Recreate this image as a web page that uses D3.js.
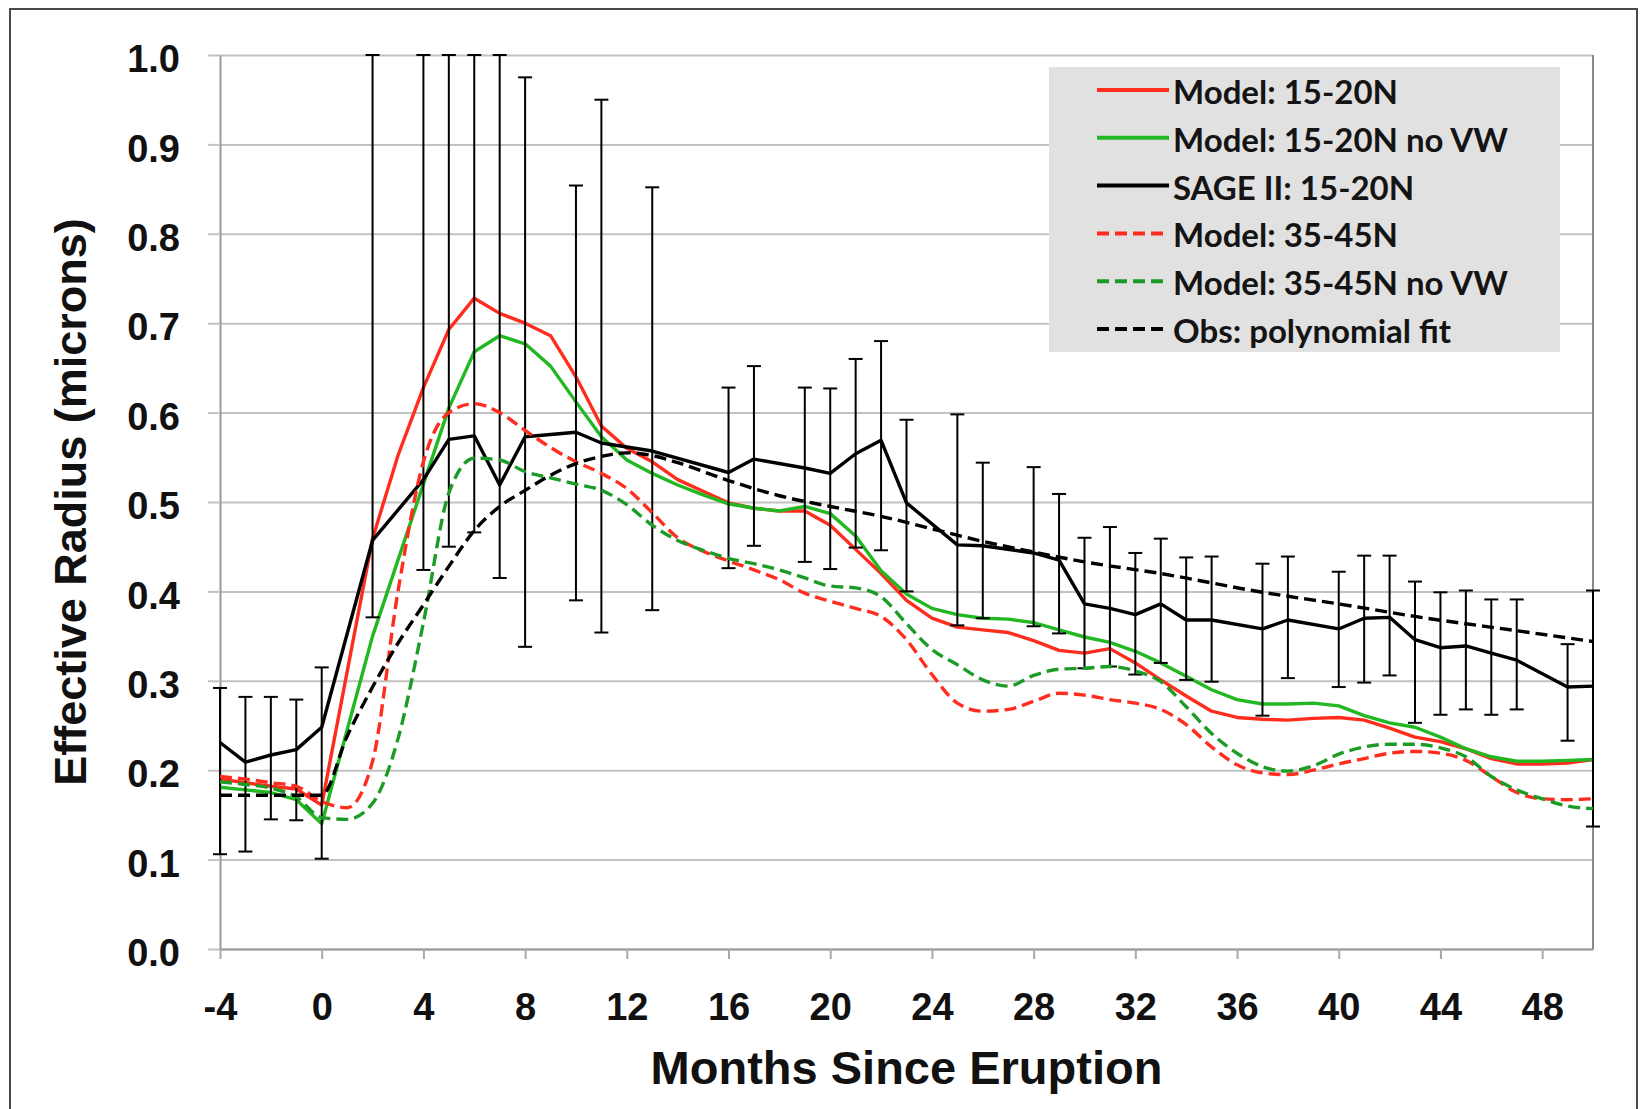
<!DOCTYPE html>
<html>
<head>
<meta charset="utf-8">
<script src="https://cdn.jsdelivr.net/npm/d3@7"></script>
<style>
  html, body { margin: 0; padding: 0; background: #ffffff; }
  svg { display: block; }
</style>
</head>
<body>
<svg id="chart" width="1640" height="1109"></svg>
<script>
// ---- Data -------------------------------------------------------------
// Monthly model output, months relative to the eruption
const modelMonths = [-4,-3,-2,-1,0,1,2,3,4,5,6,7,8,9,10,11,12,13,14,15,16,17,18,19,20,
  21,22,23,24,25,26,27,28,29,30,31,32,33,34,35,36,37,38,39,40,41,42,43,44,45,46,47,48,49,50];

// Model: 15-20N
const model1520 = [0.190,0.186,0.182,0.179,0.161,0.310,0.459,0.552,0.628,0.693,
  0.728,0.711,0.700,0.686,0.640,0.585,0.560,0.545,0.525,0.512,
  0.499,0.493,0.490,0.490,0.474,0.447,0.420,0.390,0.370,0.360,
  0.357,0.354,0.345,0.334,0.331,0.336,0.320,0.301,0.283,0.266,
  0.259,0.257,0.256,0.258,0.259,0.256,0.247,0.237,0.232,0.224,
  0.213,0.207,0.207,0.208,0.212];

// Model: 15-20N no VW
const model1520NoVW = [0.181,0.178,0.175,0.167,0.140,0.245,0.350,0.435,0.520,0.605,
  0.668,0.686,0.677,0.652,0.612,0.573,0.547,0.532,0.519,0.508,
  0.498,0.493,0.490,0.495,0.487,0.462,0.423,0.397,0.381,0.374,
  0.370,0.369,0.365,0.357,0.349,0.343,0.333,0.320,0.305,0.290,
  0.279,0.274,0.274,0.275,0.272,0.261,0.253,0.248,0.237,0.224,
  0.215,0.210,0.210,0.211,0.212];

// Model: 35-45N
const model3545 = [0.193,0.190,0.186,0.182,0.165,0.158,0.210,0.400,0.545,0.600,
  0.610,0.600,0.580,0.561,0.545,0.532,0.515,0.488,0.460,0.445,
  0.434,0.424,0.413,0.398,0.389,0.381,0.372,0.346,0.307,0.275,
  0.266,0.268,0.277,0.286,0.284,0.279,0.275,0.268,0.251,0.226,
  0.206,0.197,0.195,0.200,0.207,0.213,0.219,0.221,0.219,0.211,
  0.193,0.175,0.168,0.167,0.168];

// Model: 35-45N no VW
const model3545NoVW = [0.187,0.184,0.180,0.170,0.147,0.145,0.163,0.235,0.365,0.510,
  0.549,0.547,0.534,0.527,0.520,0.513,0.497,0.474,0.457,0.446,
  0.437,0.431,0.424,0.415,0.406,0.404,0.394,0.364,0.335,0.318,
  0.301,0.294,0.306,0.313,0.314,0.316,0.311,0.299,0.271,0.241,
  0.219,0.204,0.199,0.205,0.218,0.226,0.229,0.229,0.225,0.215,
  0.193,0.178,0.168,0.160,0.157];

// SAGE II: 15-20N observations with error bars
const sageMonths = [-4,-3,-2,-1,0,2,4,5,6,7,8,10,11,13,16,17,19,20,21,22,23,25,26,
  28,29,30,31,32,33,34,35,37,38,40,41,42,43,44,45,46,47,49,50];
const sageValues = [0.231,0.209,0.217,0.223,0.248,0.457,0.525,0.570,0.574,0.519,0.573,
  0.578,0.566,0.557,0.533,0.548,0.538,0.532,0.554,0.569,0.499,0.452,0.451,
  0.443,0.435,0.386,0.381,0.374,0.386,0.368,0.368,0.358,0.368,
  0.358,0.370,0.371,0.346,0.337,0.339,0.331,0.323,0.293,0.294];
const sageHigh = [0.292,0.282,0.282,0.279,0.315,1.0,1.0,1.0,1.0,1.0,0.975,
  0.854,0.950,0.852,0.628,0.652,0.628,0.627,0.660,0.680,0.592,0.598,0.544,
  0.539,0.509,0.460,0.472,0.443,0.459,0.438,0.439,0.431,0.439,
  0.422,0.440,0.440,0.411,0.399,0.401,0.391,0.391,0.341,0.401];
const sageLow = [0.106,0.109,0.145,0.144,0.101,0.371,0.424,0.450,0.466,0.415,0.338,
  0.390,0.354,0.379,0.426,0.451,0.433,0.425,0.449,0.446,0.400,0.362,0.370,
  0.361,0.353,0.314,0.316,0.307,0.320,0.301,0.299,0.261,0.303,
  0.293,0.298,0.306,0.253,0.262,0.268,0.262,0.268,0.233,0.137];

// Obs: polynomial fit
const fitMonths = [-4,-2,0,1,2,3,4,5,6,7,8,9,10,11,12,13,14,16,18,20,22,24,26,28,30,33,37,40,43,47,50];
const fitValues = [0.172,0.172,0.172,0.238,0.293,0.342,0.385,0.428,0.468,0.495,0.513,0.530,
  0.543,0.551,0.555,0.552,0.544,0.524,0.507,0.495,0.484,0.470,0.456,0.444,0.433,
  0.420,0.399,0.386,0.372,0.356,0.344];

// Axis ticks
const xTickValues = [-4,0,4,8,12,16,20,24,28,32,36,40,44,48];
const yTickValues = [0.0,0.1,0.2,0.3,0.4,0.5,0.6,0.7,0.8,0.9,1.0];

const legendLabels = ["Model: 15-20N","Model: 15-20N no VW","SAGE II: 15-20N",
  "Model: 35-45N","Model: 35-45N no VW","Obs: polynomial fit"];

// ---- Layout -------------------------------------------------------------
const RED = "#ff2d1e", GREEN = "#22b822", GREEN_DARK = "#1c9c26", BLACK = "#000000";
const plot = { left: 220, right: 1593, top: 55, bottom: 949 };

const svg = d3.select("#chart");
const x = d3.scaleLinear().domain([-4, 50]).range([plot.left, plot.right]);
const y = d3.scaleLinear().domain([0, 1]).range([plot.bottom, plot.top]);

// Outer frame
svg.append("rect")
  .attr("x", 10).attr("y", 9).attr("width", 1627).attr("height", 1130)
  .attr("fill", "none").attr("stroke", "#4a4a4a").attr("stroke-width", 2);

// Horizontal gridlines
const grid = svg.append("g")
  .attr("transform", `translate(${plot.left},0)`)
  .call(d3.axisLeft(y).tickValues(yTickValues).tickSize(-(plot.right - plot.left)).tickFormat(""));
grid.select(".domain").remove();
grid.selectAll(".tick line").attr("stroke", "#c2c2c2").attr("stroke-width", 2);

// Y axis with labels
const yAxis = svg.append("g")
  .attr("transform", `translate(${plot.left},0)`)
  .call(d3.axisLeft(y).tickValues(yTickValues).tickSize(12).tickSizeOuter(0).tickPadding(28)
    .tickFormat(d3.format(".1f")));
yAxis.select(".domain").attr("stroke", "#9a9a9a").attr("stroke-width", 2);
yAxis.selectAll(".tick line").attr("stroke", "#c2c2c2").attr("stroke-width", 2);
yAxis.selectAll(".tick text")
  .attr("dy", "0.44em")
  .attr("fill", "#111")
  .style("font-family", "'Liberation Sans', Arial, sans-serif")
  .style("font-weight", "bold")
  .style("font-size", "38px");

// X axis (plain hyphen for negative months)
const xAxis = svg.append("g")
  .attr("transform", `translate(0,${plot.bottom})`)
  .call(d3.axisBottom(x).tickValues(xTickValues).tickSize(10).tickSizeOuter(0).tickPadding(34)
    .tickFormat(d => String(d)));
xAxis.select(".domain").attr("stroke", "#9a9a9a").attr("stroke-width", 2);
xAxis.selectAll(".tick line").attr("stroke", "#a8a8a8").attr("stroke-width", 2);
xAxis.selectAll(".tick text")
  .attr("fill", "#111")
  .style("font-family", "'Liberation Sans', Arial, sans-serif")
  .style("font-weight", "bold")
  .style("font-size", "38px");

// Right border of plot area
svg.append("line")
  .attr("x1", x(50)).attr("x2", x(50)).attr("y1", y(1)).attr("y2", y(0))
  .attr("stroke", "#8a8a8a").attr("stroke-width", 2);

// Axis titles
svg.append("text")
  .attr("transform", `translate(86,${(plot.top + plot.bottom) / 2}) rotate(-90)`)
  .attr("text-anchor", "middle")
  .style("font-family", "'Liberation Sans', Arial, sans-serif")
  .style("font-weight", "bold").style("font-size", "45px").attr("fill", "#111")
  .text("Effective Radius (microns)");

svg.append("text")
  .attr("x", (plot.left + plot.right) / 2).attr("y", 1084)
  .attr("text-anchor", "middle")
  .style("font-family", "'Liberation Sans', Arial, sans-serif")
  .style("font-weight", "bold").style("font-size", "47px").attr("fill", "#111")
  .text("Months Since Eruption");

// ---- Series --------------------------------------------------------------
const marks = svg.append("g");

function drawSeries(months, values, color, dashed, curve) {
  const pts = months.map((m, i) => [m, values[i]]);
  marks.append("path")
    .datum(pts)
    .attr("fill", "none")
    .attr("stroke", color)
    .attr("stroke-width", 3.4)
    .attr("stroke-linejoin", "round")
    .attr("stroke-dasharray", dashed ? "12,6" : null)
    .attr("d", d3.line().x(d => x(d[0])).y(d => y(d[1])).curve(curve));
}

drawSeries(modelMonths, model1520, RED, false, d3.curveLinear);
drawSeries(modelMonths, model1520NoVW, GREEN, false, d3.curveLinear);

// SAGE II error bars
const sage = sageMonths.map((m, i) => ({ m, v: sageValues[i], hi: sageHigh[i], lo: sageLow[i] }));
const bars = marks.append("g").attr("stroke", BLACK).attr("stroke-width", 2);
bars.selectAll("line.stem").data(sage).join("line")
  .attr("class", "stem")
  .attr("x1", d => x(d.m)).attr("x2", d => x(d.m))
  .attr("y1", d => y(d.hi)).attr("y2", d => y(d.lo));
bars.selectAll("line.cap-hi").data(sage).join("line")
  .attr("class", "cap-hi")
  .attr("x1", d => x(d.m) - 7).attr("x2", d => x(d.m) + 7)
  .attr("y1", d => y(d.hi)).attr("y2", d => y(d.hi));
bars.selectAll("line.cap-lo").data(sage).join("line")
  .attr("class", "cap-lo")
  .attr("x1", d => x(d.m) - 7).attr("x2", d => x(d.m) + 7)
  .attr("y1", d => y(d.lo)).attr("y2", d => y(d.lo));

drawSeries(sageMonths, sageValues, BLACK, false, d3.curveLinear);
drawSeries(modelMonths, model3545, RED, true, d3.curveMonotoneX);
drawSeries(modelMonths, model3545NoVW, GREEN_DARK, true, d3.curveMonotoneX);
drawSeries(fitMonths, fitValues, BLACK, true, d3.curveMonotoneX);

// ---- Legend -------------------------------------------------------------
const legendStyles = [
  { color: RED, dashed: false },
  { color: GREEN, dashed: false },
  { color: BLACK, dashed: false },
  { color: RED, dashed: true },
  { color: GREEN_DARK, dashed: true },
  { color: BLACK, dashed: true }
];
const legend = svg.append("g");
legend.append("rect")
  .attr("x", 1049).attr("y", 67).attr("width", 511).attr("height", 285)
  .attr("fill", "#e1e1e1");
const rows = legend.selectAll("g.row").data(legendLabels).join("g")
  .attr("class", "row")
  .attr("transform", (d, i) => `translate(0,${90 + i * 47.8})`);
rows.append("line")
  .attr("x1", 1097).attr("x2", 1169).attr("y1", 0).attr("y2", 0)
  .attr("stroke", (d, i) => legendStyles[i].color)
  .attr("stroke-width", 4)
  .attr("stroke-dasharray", (d, i) => legendStyles[i].dashed ? "12,6" : null);
rows.append("text")
  .attr("x", 1173).attr("y", 14)
  .attr("fill", "#141414")
  .style("font-family", "Lato, 'Open Sans', sans-serif")
  .style("font-weight", "bold")
  .style("font-size", "33px")
  .text(d => d);
</script>
</body>
</html>
